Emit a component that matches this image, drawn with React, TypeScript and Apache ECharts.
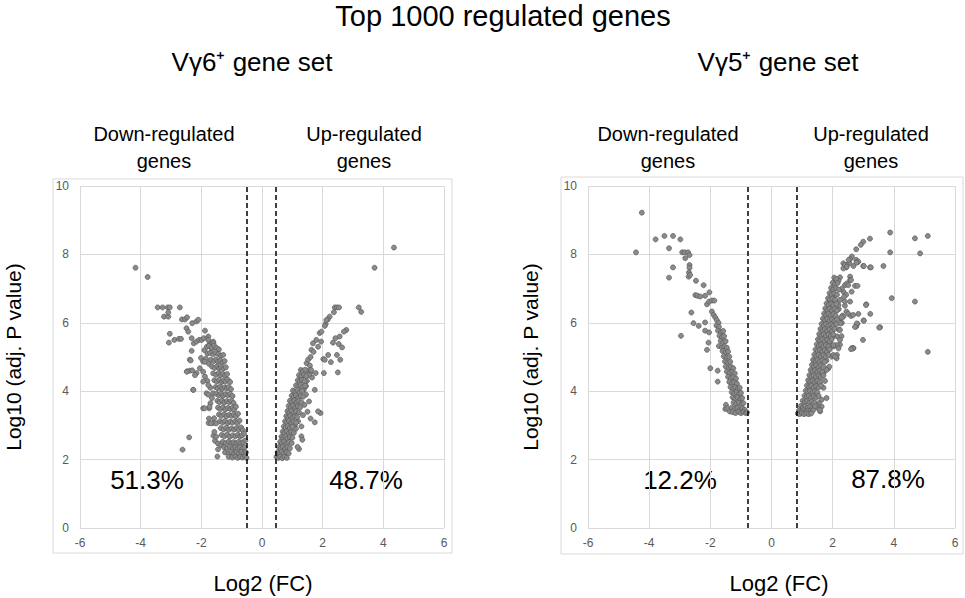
import React, { useEffect, useRef } from "react";
import * as echarts from "echarts";

const mainTitle = "Top 1000 regulated genes";
const panelTitles = ["Vγ6⁺ gene set", "Vγ5⁺ gene set"];
const downLabel = "Down-regulated\ngenes";
const upLabel = "Up-regulated\ngenes";
const yAxisTitle = "Log10 (adj. P value)";
const xAxisTitle = "Log2 (FC)";
const percentsV6 = ["51.3%", "48.7%"];
const percentsV5 = ["12.2%", "87.8%"];
const thresholdsV6 = [-0.5, 0.46];
const thresholdsV5 = [-0.77, 0.83];

const v6Down: number[][] = [
  [-4.17, 7.61], [-3.77, 7.34], [-3.44, 6.45], [-3.28, 6.45], [-3.11, 6.45], [-3.04, 6.45], [-2.71, 6.45],
  [-3.23, 6.18], [-3.09, 6.18], [-3.09, 6.3], [-2.64, 6.1], [-2.54, 6.1], [-2.47, 6.16], [-2.3, 5.99],
  [-2.16, 6.04], [-2.1, 6.09], [-3.04, 5.68], [-3.07, 5.42], [-2.89, 5.5], [-2.74, 5.53], [-2.67, 5.53],
  [-2.49, 5.84], [-2.43, 5.74], [-2.32, 5.55], [-2.25, 5.4], [-2.16, 5.45], [-2.07, 5.5], [-1.99, 5.5],
  [-1.92, 5.55], [-1.88, 5.77], [-1.77, 5.6], [-1.72, 5.42], [-1.66, 5.4], [-1.61, 5.45], [-2.32, 5.18],
  [-2.38, 4.92], [-2.35, 4.9], [-2.47, 4.58], [-2.38, 4.6], [-2.3, 4.61], [-2.27, 4.04], [-2.16, 4.53],
  [-2.01, 4.97], [-1.94, 4.87], [-2.05, 4.67], [-1.88, 4.43], [-1.94, 3.5], [-1.74, 3.5], [-1.76, 3.07],
  [-1.61, 3.07], [-1.58, 3.21], [-2.4, 2.65], [-2.62, 2.29], [-1.47, 2.09],
  [-1.9, 5.2], [-1.8, 5.1], [-1.85, 4.95], [-1.75, 4.8], [-1.8, 4.3], [-1.7, 4.1], [-1.83, 3.94],
  [-1.77, 3.9], [-1.61, 3.94], [-1.7, 3.65], [-1.65, 3.8], [-1.55, 2.55], [-1.45, 2.3], [-1.6, 2.7],
  [-2.48, 4.57], [-2.21, 4.47], [-1.94, 4.57], [-1.89, 4.86], [-1.94, 4.28], [-1.77, 4.18], [-2.26, 4.04],
  [-1.89, 3.5], [-1.73, 3.55], [-1.75, 3.2], [-1.68, 3.06], [-1.51, 3.06], [-1.57, 2.81], [-1.51, 2.67],
  [-1.45, 2.47], [-1.35, 2.42], [-1.77, 5.5], [-1.6, 5.4], [-1.66, 5.25], [-1.82, 5.3],
  [-1.75, 5.32], [-1.66, 5.28], [-1.58, 5.33], [-1.5, 5.27], [-1.42, 5.22],
  [-1.71, 5.12], [-1.61, 5.08], [-1.53, 5.14], [-1.44, 5.09], [-1.36, 5.03], [-1.28, 5.06],
  [-1.69, 4.92], [-1.59, 4.88], [-1.51, 4.93], [-1.45, 4.86], [-1.37, 4.9], [-1.3, 4.84], [-1.23, 4.88],
  [-1.65, 4.72], [-1.56, 4.68], [-1.48, 4.73], [-1.41, 4.67], [-1.35, 4.71], [-1.27, 4.66], [-1.19, 4.7],
  [-1.61, 4.52], [-1.51, 4.48], [-1.43, 4.53], [-1.36, 4.47], [-1.3, 4.51], [-1.22, 4.46], [-1.15, 4.5],
  [-1.57, 4.32], [-1.49, 4.28], [-1.41, 4.33], [-1.33, 4.27], [-1.27, 4.31], [-1.2, 4.28], [-1.12, 4.33], [-1.05, 4.27],
  [-1.53, 4.12], [-1.46, 4.08], [-1.38, 4.13], [-1.31, 4.07], [-1.23, 4.11], [-1.16, 4.08], [-1.1, 4.12], [-1.02, 4.06],
  [-1.5, 3.92], [-1.42, 3.88], [-1.35, 3.93], [-1.28, 3.87], [-1.2, 3.91], [-1.12, 3.88], [-1.05, 3.92], [-0.97, 3.86],
  [-1.47, 3.72], [-1.4, 3.68], [-1.32, 3.73], [-1.24, 3.67], [-1.16, 3.71], [-1.08, 3.68], [-1.01, 3.72], [-0.94, 3.66],
  [-1.45, 3.52], [-1.37, 3.48], [-1.29, 3.53], [-1.2, 3.47], [-1.12, 3.51], [-1.04, 3.48], [-0.97, 3.52], [-0.92, 3.46], [-0.86, 3.55],
  [-1.42, 3.32], [-1.34, 3.28], [-1.25, 3.33], [-1.17, 3.27], [-1.08, 3.31], [-1.0, 3.28], [-0.93, 3.32], [-0.86, 3.27], [-0.79, 3.34],
  [-1.39, 3.12], [-1.3, 3.08], [-1.22, 3.13], [-1.13, 3.07], [-1.05, 3.11], [-0.97, 3.08], [-0.89, 3.12], [-0.81, 3.07], [-0.74, 3.14],
  [-1.36, 2.92], [-1.27, 2.88], [-1.18, 2.93], [-1.1, 2.87], [-1.01, 2.91], [-0.92, 2.88], [-0.84, 2.92], [-0.77, 2.87], [-0.69, 2.94], [-0.63, 2.86],
  [-1.33, 2.72], [-1.24, 2.68], [-1.15, 2.73], [-1.06, 2.67], [-0.97, 2.71], [-0.88, 2.68], [-0.8, 2.72], [-0.72, 2.67], [-0.66, 2.71], [-0.59, 2.76],
  [-1.3, 2.52], [-1.2, 2.48], [-1.1, 2.53], [-1.02, 2.47], [-0.94, 2.51], [-0.85, 2.48], [-0.77, 2.52], [-0.7, 2.47], [-0.62, 2.51], [-0.55, 2.56],
  [-1.25, 2.36], [-1.15, 2.33], [-1.05, 2.37], [-0.96, 2.32], [-0.88, 2.36], [-0.8, 2.33], [-0.72, 2.37], [-0.64, 2.32], [-0.57, 2.36],
  [-1.22, 2.21], [-1.1, 2.18], [-1.0, 2.22], [-0.92, 2.17], [-0.84, 2.21], [-0.76, 2.18], [-0.68, 2.22], [-0.6, 2.17], [-0.53, 2.21],
  [-1.1, 2.08], [-0.98, 2.06], [-0.88, 2.09], [-0.8, 2.05], [-0.72, 2.08], [-0.64, 2.06], [-0.56, 2.09], [-0.51, 2.05],
];

const v6Up: number[][] = [
  [4.35, 8.2], [3.71, 7.61], [3.19, 6.45], [3.27, 6.32], [2.4, 6.45], [2.47, 6.45], [2.54, 6.45], [2.37, 6.31],
  [2.23, 6.18], [2.17, 6.1], [2.1, 5.97], [2.78, 5.79], [2.7, 5.74], [2.56, 5.6], [2.53, 5.38], [2.64, 5.28],
  [2.34, 5.42], [2.42, 5.55], [2.47, 5.06], [2.58, 4.92], [2.5, 4.55], [2.27, 4.85], [2.18, 5.06], [2.02, 4.94],
  [2.04, 4.53], [2.07, 4.92], [1.77, 4.53], [1.74, 4.04], [1.93, 3.36], [1.85, 3.41], [1.74, 3.09], [1.47, 4.82],
  [1.52, 4.92], [1.63, 5.21], [1.68, 5.4], [1.79, 5.5], [1.9, 5.7], [1.96, 5.74], [2.07, 5.91], [2.12, 6.08],
  [1.3, 2.97], [1.19, 3.12], [1.3, 2.68], [1.22, 2.31], [1.17, 2.37], [1.33, 2.58],
  [1.6, 5.0], [1.7, 5.15], [1.58, 4.75], [1.85, 5.3], [1.95, 5.45], [1.5, 4.6], [1.6, 4.55], [1.65, 4.4],
  [1.45, 3.9], [1.4, 3.6], [1.55, 3.7], [1.5, 3.4], [1.35, 3.3], [1.6, 3.2],
  [1.55, 4.47], [1.62, 4.62], [1.48, 4.3], [1.38, 4.05], [1.45, 4.15], [1.08, 3.0], [1.12, 2.9],
  [1.28, 4.62], [1.35, 4.58], [1.42, 4.63],
  [1.22, 4.47], [1.3, 4.43], [1.38, 4.48], [1.46, 4.44],
  [1.18, 4.32], [1.25, 4.28], [1.32, 4.33], [1.4, 4.29],
  [1.12, 4.17], [1.2, 4.13], [1.27, 4.18], [1.34, 4.12], [1.42, 4.16],
  [1.02, 4.02], [1.1, 3.98], [1.17, 4.03], [1.24, 3.97], [1.32, 4.01],
  [0.98, 3.87], [1.05, 3.83], [1.12, 3.88], [1.2, 3.82], [1.28, 3.86], [1.36, 3.84],
  [0.92, 3.72], [0.99, 3.68], [1.06, 3.73], [1.13, 3.67], [1.2, 3.71], [1.3, 3.68],
  [0.88, 3.57], [0.95, 3.53], [1.02, 3.58], [1.1, 3.52], [1.18, 3.56], [1.26, 3.53],
  [0.84, 3.42], [0.9, 3.38], [0.97, 3.43], [1.04, 3.37], [1.12, 3.41], [1.22, 3.38],
  [0.8, 3.27], [0.86, 3.23], [0.93, 3.28], [1.0, 3.22], [1.08, 3.26], [1.16, 3.24],
  [0.76, 3.12], [0.82, 3.08], [0.89, 3.13], [0.96, 3.07], [1.04, 3.11], [1.12, 3.08],
  [0.72, 2.97], [0.78, 2.93], [0.85, 2.98], [0.92, 2.92], [1.0, 2.96],
  [0.68, 2.82], [0.74, 2.78], [0.81, 2.83], [0.88, 2.77], [0.96, 2.81], [1.05, 2.78],
  [0.64, 2.67], [0.7, 2.63], [0.77, 2.68], [0.84, 2.62], [0.92, 2.66], [1.0, 2.64],
  [0.6, 2.52], [0.66, 2.48], [0.73, 2.53], [0.8, 2.47], [0.88, 2.51], [0.98, 2.48],
  [0.56, 2.37], [0.62, 2.33], [0.69, 2.38], [0.76, 2.32], [0.84, 2.36], [0.92, 2.33],
  [0.52, 2.22], [0.58, 2.18], [0.65, 2.23], [0.72, 2.17], [0.8, 2.21], [0.88, 2.18],
  [0.48, 2.08], [0.54, 2.05], [0.6, 2.09], [0.67, 2.04], [0.74, 2.08], [0.82, 2.05],
];

const v5Down: number[][] = [
  [-4.24, 9.22], [-4.43, 8.06], [-3.79, 8.44], [-3.5, 8.54], [-3.22, 8.54], [-2.98, 8.44], [-3.35, 8.18],
  [-3.22, 7.62], [-3.35, 7.32], [-2.92, 8.06], [-2.84, 8.06], [-2.73, 8.06], [-2.68, 7.98], [-2.82, 7.89],
  [-2.68, 7.69], [-2.68, 7.61], [-2.7, 7.47], [-2.71, 7.35], [-2.66, 7.4], [-2.47, 7.23], [-2.22, 7.1],
  [-2.03, 6.89], [-2.49, 6.81], [-2.42, 6.79], [-2.33, 6.77], [-2.17, 6.79], [-2.11, 6.54], [-2.04, 6.62],
  [-1.95, 6.65], [-1.87, 6.65], [-2.62, 6.3], [-2.55, 5.99], [-2.38, 5.91], [-2.17, 6.01], [-2.96, 5.62],
  [-2.17, 5.77], [-2.04, 5.72], [-2.06, 5.42], [-2.11, 5.21], [-2.0, 4.67], [-1.76, 4.6], [-1.76, 4.28],
  [-1.95, 6.33], [-1.89, 6.23], [-1.84, 6.16], [-1.79, 6.08], [-1.73, 6.0], [-1.51, 3.48], [-1.49, 3.6],
  [-1.44, 3.5], [-1.37, 3.41],
  [-1.8, 5.92], [-1.72, 5.88],
  [-1.75, 5.77], [-1.65, 5.73], [-1.58, 5.76],
  [-1.7, 5.62], [-1.62, 5.58], [-1.55, 5.61],
  [-1.66, 5.47], [-1.58, 5.43], [-1.5, 5.46],
  [-1.72, 5.32], [-1.62, 5.28], [-1.54, 5.31], [-1.46, 5.27],
  [-1.6, 5.17], [-1.5, 5.13], [-1.42, 5.16],
  [-1.56, 5.02], [-1.47, 4.98], [-1.38, 5.01],
  [-1.52, 4.87], [-1.44, 4.83], [-1.35, 4.86],
  [-1.5, 4.72], [-1.4, 4.68], [-1.32, 4.71], [-1.25, 4.67],
  [-1.46, 4.57], [-1.37, 4.53], [-1.28, 4.56], [-1.2, 4.52],
  [-1.42, 4.42], [-1.33, 4.38], [-1.25, 4.41], [-1.16, 4.37],
  [-1.38, 4.27], [-1.3, 4.23], [-1.22, 4.26], [-1.13, 4.22],
  [-1.34, 4.12], [-1.26, 4.08], [-1.18, 4.11], [-1.1, 4.07], [-1.04, 4.1],
  [-1.3, 3.97], [-1.22, 3.93], [-1.14, 3.96], [-1.06, 3.92], [-1.0, 3.95],
  [-1.27, 3.82], [-1.19, 3.78], [-1.1, 3.81], [-1.02, 3.77], [-0.96, 3.8],
  [-1.24, 3.67], [-1.15, 3.63], [-1.07, 3.66], [-0.98, 3.62], [-0.92, 3.65],
  [-1.3, 3.52], [-1.2, 3.48], [-1.12, 3.51], [-1.03, 3.47], [-0.95, 3.5], [-0.88, 3.46],
  [-1.28, 3.39], [-1.18, 3.36], [-1.08, 3.4], [-1.0, 3.36], [-0.92, 3.39], [-0.84, 3.36], [-0.8, 3.38],
];

const v5Up: number[][] = [
  [3.88, 8.64], [4.69, 8.47], [5.11, 8.54], [3.88, 8.06], [4.86, 8.03], [3.66, 7.66], [3.22, 7.62], [3.0, 7.66],
  [3.93, 6.72], [4.69, 6.62], [5.11, 5.15], [3.55, 5.87], [3.22, 8.46], [3.0, 8.37], [2.92, 8.28], [2.77, 8.15],
  [2.44, 7.62], [2.35, 7.59], [2.77, 7.84], [2.68, 7.66], [2.81, 7.77], [2.63, 7.94], [2.55, 7.74], [2.35, 7.74],
  [2.44, 7.69], [2.24, 7.33], [2.19, 7.23], [2.57, 7.35], [2.57, 7.25], [2.73, 7.08], [2.81, 7.08], [3.1, 6.54],
  [3.23, 6.26], [3.01, 6.07], [2.81, 5.97], [2.77, 5.89], [2.99, 5.5], [2.63, 5.26], [2.68, 5.26], [2.24, 5.36],
  [2.03, 5.31], [2.14, 5.06], [1.97, 5.01], [2.26, 6.13], [2.32, 6.21], [2.45, 6.33], [2.51, 6.26], [2.35, 6.91],
  [2.44, 6.82], [2.24, 6.67], [1.86, 4.67], [1.7, 4.53], [1.64, 3.55], [1.64, 3.75], [1.59, 3.41], [1.53, 3.5],
  [2.3, 7.0], [2.4, 7.1], [2.1, 7.2], [2.2, 6.4], [2.3, 6.0], [2.4, 6.5], [2.6, 6.2], [2.15, 5.6], [2.2, 5.8],
  [2.0, 5.6], [1.9, 5.4], [1.8, 4.9], [1.75, 4.3], [1.7, 4.1], [1.8, 3.8], [1.55, 3.65],
  [2.57, 7.86], [2.52, 7.84], [2.84, 7.79], [2.78, 7.76], [2.4, 7.69], [2.46, 7.64], [3.02, 7.66], [3.25, 7.62],
  [2.46, 7.15], [2.6, 7.25], [2.51, 7.1], [2.62, 6.91], [2.02, 6.76], [1.91, 6.66], [2.08, 6.62], [2.19, 6.52],
  [2.37, 6.76], [2.4, 6.62], [2.57, 6.62], [3.09, 6.52], [2.84, 6.26], [2.67, 6.23], [2.35, 6.18], [2.29, 6.16],
  [3.02, 6.06], [2.79, 5.98], [2.73, 5.88], [3.52, 5.86], [2.26, 5.98], [2.24, 5.79], [2.29, 5.61], [2.24, 5.5],
  [2.13, 5.35], [2.02, 5.35], [2.19, 5.25], [2.02, 5.06], [2.13, 4.96], [2.08, 5.01], [1.89, 4.72], [1.8, 4.62],
  [1.58, 3.45], [1.47, 3.6], [2.67, 5.25], [2.6, 5.23],
  [2.05, 7.32], [2.12, 7.28],
  [2.0, 7.17], [2.08, 7.13], [2.16, 7.16],
  [1.95, 7.02], [2.02, 6.98], [2.1, 7.01], [2.2, 6.97],
  [1.9, 6.87], [1.97, 6.83], [2.05, 6.86], [2.14, 6.82],
  [1.85, 6.72], [1.92, 6.68], [2.0, 6.71], [2.08, 6.67],
  [1.8, 6.57], [1.87, 6.53], [1.95, 6.56], [2.03, 6.52], [2.12, 6.55],
  [1.76, 6.42], [1.83, 6.38], [1.9, 6.41], [1.98, 6.37], [2.06, 6.4], [2.14, 6.36],
  [1.72, 6.27], [1.79, 6.23], [1.86, 6.26], [1.94, 6.22], [2.02, 6.25], [2.1, 6.21],
  [1.68, 6.12], [1.75, 6.08], [1.82, 6.11], [1.9, 6.07], [1.98, 6.1], [2.06, 6.06], [2.14, 6.1],
  [1.64, 5.97], [1.71, 5.93], [1.78, 5.96], [1.86, 5.92], [1.95, 5.95], [2.03, 5.91], [2.12, 5.96],
  [1.6, 5.82], [1.67, 5.78], [1.74, 5.81], [1.82, 5.77], [1.9, 5.8], [1.98, 5.76], [2.06, 5.82],
  [1.56, 5.67], [1.63, 5.63], [1.7, 5.66], [1.78, 5.62], [1.86, 5.65], [1.94, 5.61], [2.02, 5.66],
  [1.52, 5.52], [1.59, 5.48], [1.66, 5.51], [1.74, 5.47], [1.82, 5.5], [1.9, 5.46], [1.97, 5.52],
  [1.48, 5.37], [1.55, 5.33], [1.62, 5.36], [1.7, 5.32], [1.78, 5.35], [1.86, 5.31],
  [1.44, 5.22], [1.51, 5.18], [1.58, 5.21], [1.66, 5.17], [1.74, 5.2], [1.82, 5.16], [1.9, 5.22],
  [1.4, 5.07], [1.47, 5.03], [1.54, 5.06], [1.62, 5.02], [1.7, 5.05], [1.78, 5.01], [1.86, 5.06],
  [1.36, 4.92], [1.43, 4.88], [1.5, 4.91], [1.58, 4.87], [1.66, 4.9], [1.74, 4.86],
  [1.32, 4.77], [1.39, 4.73], [1.46, 4.76], [1.54, 4.72], [1.62, 4.75], [1.7, 4.71],
  [1.28, 4.62], [1.35, 4.58], [1.42, 4.61], [1.5, 4.57], [1.58, 4.6], [1.66, 4.56],
  [1.24, 4.47], [1.31, 4.43], [1.38, 4.46], [1.46, 4.42], [1.54, 4.45], [1.62, 4.41], [1.7, 4.46],
  [1.2, 4.32], [1.27, 4.28], [1.34, 4.31], [1.42, 4.27], [1.5, 4.3], [1.58, 4.26],
  [1.16, 4.17], [1.23, 4.13], [1.3, 4.16], [1.38, 4.12], [1.46, 4.15], [1.54, 4.11], [1.62, 4.16],
  [1.12, 4.02], [1.19, 3.98], [1.26, 4.01], [1.34, 3.97], [1.42, 4.0], [1.5, 3.96],
  [1.08, 3.87], [1.15, 3.83], [1.22, 3.86], [1.3, 3.82], [1.38, 3.85], [1.46, 3.81], [1.54, 3.86],
  [1.02, 3.72], [1.09, 3.68], [1.16, 3.71], [1.24, 3.67], [1.32, 3.7], [1.4, 3.66],
  [0.96, 3.57], [1.03, 3.53], [1.1, 3.56], [1.18, 3.52], [1.26, 3.55], [1.34, 3.51], [1.42, 3.56],
  [0.9, 3.44], [0.97, 3.41], [1.04, 3.44], [1.12, 3.4], [1.2, 3.43], [1.28, 3.41], [1.36, 3.44],
  [0.86, 3.35], [0.92, 3.33], [0.99, 3.36], [1.06, 3.33], [1.14, 3.35], [1.22, 3.33], [1.3, 3.35],
];

const TEXT_FONT = "'Liberation Sans', Arial, sans-serif";
const GRID_COLOR = "#d9d9d9";
const TICK_COLOR = "#595959";

function makeAxes(gridIndex: number) {
  const xAxis = {
    type: "value",
    gridIndex,
    min: -6,
    max: 6,
    interval: 2,
    axisLine: { show: true, lineStyle: { color: GRID_COLOR, width: 1 } },
    axisTick: { show: false },
    axisLabel: { color: TICK_COLOR, fontSize: 12, fontFamily: TEXT_FONT, margin: 9 },
    splitLine: { show: true, lineStyle: { color: GRID_COLOR, width: 1 } },
  };
  const yAxis = {
    type: "value",
    gridIndex,
    min: 0,
    max: 10,
    interval: 2,
    axisLine: { show: false },
    axisTick: { show: false },
    axisLabel: { color: TICK_COLOR, fontSize: 12, fontFamily: TEXT_FONT, margin: 11 },
    splitLine: { show: true, lineStyle: { color: GRID_COLOR, width: 1 } },
  };
  return { xAxis, yAxis };
}

function markLines(thresholds: number[]) {
  return {
    silent: true,
    symbol: "none",
    label: { show: false },
    animation: false,
    data: [
      { xAxis: 0, lineStyle: { color: GRID_COLOR, type: "solid", width: 1 } },
      ...thresholds.map((t) => ({ xAxis: t, lineStyle: { color: "#000", type: [5, 3], width: 1.5 } })),
    ],
  };
}

function scatter(data: number[][], idx: number, thresholds?: number[]) {
  return {
    type: "scatter",
    xAxisIndex: idx,
    yAxisIndex: idx,
    data,
    symbolSize: 5,
    itemStyle: { color: "#8a8a8a", borderColor: "#5a5a5a", borderWidth: 0.7, opacity: 1 },
    z: 3,
    ...(thresholds ? { markLine: markLines(thresholds) } : {}),
  };
}

function txt(text: string, x: number, y: number, fontSize: number, extra: any = {}) {
  return {
    type: "text",
    x,
    y,
    ...extra,
    style: {
      text,
      fontSize,
      fontFamily: TEXT_FONT,
      fill: "#000",
      align: "center",
      verticalAlign: "middle",
      ...(extra.style || {}),
    },
  };
}

export default function App() {
  const ref = useRef<HTMLDivElement>(null);
  useEffect(() => {
    document.body.style.margin = "0";
    const chart = echarts.init(ref.current!, null, { renderer: "svg" });
    const a0 = makeAxes(0);
    const a1 = makeAxes(1);
    chart.setOption({
      animation: false,
      backgroundColor: "#fff",
      grid: [
        { left: 80, top: 186, width: 364, height: 342 },
        { left: 588, top: 186, width: 367, height: 342 },
      ],
      xAxis: [a0.xAxis, a1.xAxis],
      yAxis: [a0.yAxis, a1.yAxis],
      series: [
        scatter(v6Down, 0, thresholdsV6),
        scatter(v6Up, 0),
        scatter(v5Down, 1, thresholdsV5),
        scatter(v5Up, 1),
      ],
      graphic: [
        { type: "rect", shape: { x: 53, y: 179, width: 399, height: 374 }, style: { fill: "none", stroke: GRID_COLOR, lineWidth: 1 }, z: -1 },
        { type: "rect", shape: { x: 561, y: 177, width: 402, height: 377 }, style: { fill: "none", stroke: GRID_COLOR, lineWidth: 1 }, z: -1 },
        txt(mainTitle, 503, 16, 29),
        txt(panelTitles[0], 252, 62, 26),
        txt(panelTitles[1], 778, 62, 26),
        txt(downLabel, 164, 147, 20, { style: { lineHeight: 27 } }),
        txt(upLabel, 364, 147, 20, { style: { lineHeight: 27 } }),
        txt(downLabel, 668, 147, 20, { style: { lineHeight: 27 } }),
        txt(upLabel, 871, 147, 20, { style: { lineHeight: 27 } }),
        txt(yAxisTitle, 13, 357, 21, { rotation: Math.PI / 2 }),
        txt(yAxisTitle, 530, 357, 21, { rotation: Math.PI / 2 }),
        txt(xAxisTitle, 263, 583, 22),
        txt(xAxisTitle, 779, 583, 22),
        txt(percentsV6[0], 147, 480, 26),
        txt(percentsV6[1], 366, 480, 26),
        txt(percentsV5[0], 680, 480, 26),
        txt(percentsV5[1], 888, 479, 26),
      ],
    });
    return () => chart.dispose();
  }, []);
  return <div ref={ref} style={{ width: 965, height: 598, position: "fixed", left: 0, top: 0 }} />;
}
